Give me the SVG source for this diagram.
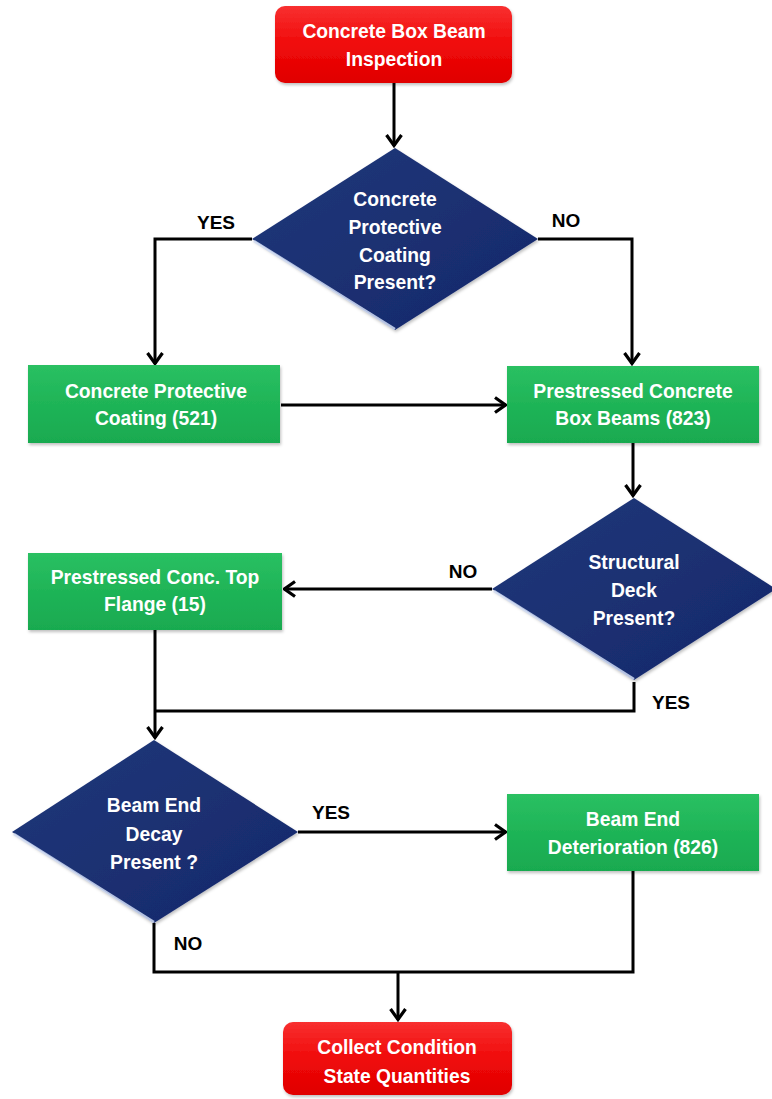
<svg xmlns="http://www.w3.org/2000/svg" width="772" height="1099" viewBox="0 0 772 1099">
<defs>
<linearGradient id="gRed" x1="0" y1="0" x2="0" y2="1">
<stop offset="0" stop-color="#f83030"/><stop offset="0.5" stop-color="#f00a0a"/><stop offset="1" stop-color="#e00000"/>
</linearGradient>
<linearGradient id="gGreen" x1="0" y1="0" x2="0" y2="1">
<stop offset="0" stop-color="#2ac062"/><stop offset="0.5" stop-color="#1fb457"/><stop offset="1" stop-color="#19aa50"/>
</linearGradient>
<linearGradient id="gNavy" x1="0" y1="0" x2="1" y2="1">
<stop offset="0" stop-color="#22387a"/><stop offset="1" stop-color="#15286a"/>
</linearGradient>
<filter id="sh" x="-10%" y="-10%" width="120%" height="130%">
<feDropShadow dx="1" dy="2" stdDeviation="1.5" flood-color="#000" flood-opacity="0.25"/>
</filter>
<marker id="arr" viewBox="0 0 14 18" refX="12.5" refY="9" markerWidth="14" markerHeight="18" orient="auto" markerUnits="userSpaceOnUse">
<path d="M1.5,1.5 L12,9 L1.5,16.5" fill="none" stroke="#000" stroke-width="3.2"/>
</marker>
</defs>
<style>
.t{font-family:"Liberation Sans",Arial,sans-serif;font-weight:bold;font-size:19.3px;fill:#fff;text-anchor:middle}
.lbl{font-family:"Liberation Sans",Arial,sans-serif;font-weight:bold;font-size:19px;fill:#000;text-anchor:middle}
.ln{fill:none;stroke:#000;stroke-width:3}
.red{fill:url(#gRed);filter:url(#sh)}
.green{fill:url(#gGreen);filter:url(#sh)}
.navy{fill:url(#gNavy);filter:url(#sh)}
.hl{fill:none;stroke:#d0dcf5;stroke-width:2.5;opacity:0.85}
</style>
<rect width="772" height="1099" fill="#fff"/>

<g id="connectors">
<path class="ln" d="M394,83 V146" marker-end="url(#arr)"/>
<path class="ln" d="M252,239 H155 V364" marker-end="url(#arr)"/>
<path class="ln" d="M538,239 H632 V364" marker-end="url(#arr)"/>
<path class="ln" d="M281,405 H506" marker-end="url(#arr)"/>
<path class="ln" d="M633,443 V496" marker-end="url(#arr)"/>
<path class="ln" d="M492,589 H284" marker-end="url(#arr)"/>
<path class="ln" d="M155,630 V738" marker-end="url(#arr)"/>
<path class="ln" d="M634,682 V711 H155"/>
<path class="ln" d="M298,832 H506" marker-end="url(#arr)"/>
<path class="ln" d="M154,923 V972 H633 V871"/>
<path class="ln" d="M398,972 V1020" marker-end="url(#arr)"/>
<text class="lbl" x="216" y="229">YES</text>
<text class="lbl" x="566" y="227">NO</text>
<text class="lbl" x="463" y="578">NO</text>
<text class="lbl" x="671" y="709">YES</text>
<text class="lbl" x="331" y="819">YES</text>
<text class="lbl" x="188" y="950">NO</text>
</g>

<g id="start">
<rect class="red" x="275" y="6" width="237" height="77" rx="10"/>
<text class="t" x="394" y="38">Concrete Box Beam</text>
<text class="t" x="394" y="66">Inspection</text>
</g>

<g id="d1">
<polygon class="navy" points="395,148 538,239 395,330 252,239"/>
<path class="hl" d="M254,241 L395,329"/>
<text class="t" x="395" y="206">Concrete</text>
<text class="t" x="395" y="234">Protective</text>
<text class="t" x="395" y="262">Coating</text>
<text class="t" x="395" y="289">Present?</text>
</g>

<g id="b521">
<rect class="green" x="28" y="365" width="252" height="78"/>
<text class="t" x="156" y="398">Concrete Protective</text>
<text class="t" x="156" y="425">Coating (521)</text>
</g>

<g id="b823">
<rect class="green" x="507" y="366" width="252" height="77"/>
<text class="t" x="633" y="398">Prestressed Concrete</text>
<text class="t" x="633" y="425">Box Beams (823)</text>
</g>

<g id="d2">
<polygon class="navy" points="634,498 776,589 634,680 492,589"/>
<path class="hl" d="M494,591 L634,679"/>
<text class="t" x="634" y="569">Structural</text>
<text class="t" x="634" y="597">Deck</text>
<text class="t" x="634" y="625">Present?</text>
</g>

<g id="b15">
<rect class="green" x="28" y="553" width="254" height="77"/>
<text class="t" x="155" y="584">Prestressed Conc. Top</text>
<text class="t" x="155" y="611">Flange (15)</text>
</g>

<g id="d3">
<polygon class="navy" points="154,740 298,832 154,923 12,832"/>
<path class="hl" d="M14,834 L154,922"/>
<text class="t" x="154" y="812">Beam End</text>
<text class="t" x="154" y="841">Decay</text>
<text class="t" x="154" y="869">Present ?</text>
</g>

<g id="b826">
<rect class="green" x="507" y="794" width="252" height="77"/>
<text class="t" x="633" y="826">Beam End</text>
<text class="t" x="633" y="854">Deterioration (826)</text>
</g>

<g id="end">
<rect class="red" x="283" y="1022" width="229" height="73" rx="10"/>
<text class="t" x="397" y="1054">Collect Condition</text>
<text class="t" x="397" y="1083">State Quantities</text>
</g>
</svg>
